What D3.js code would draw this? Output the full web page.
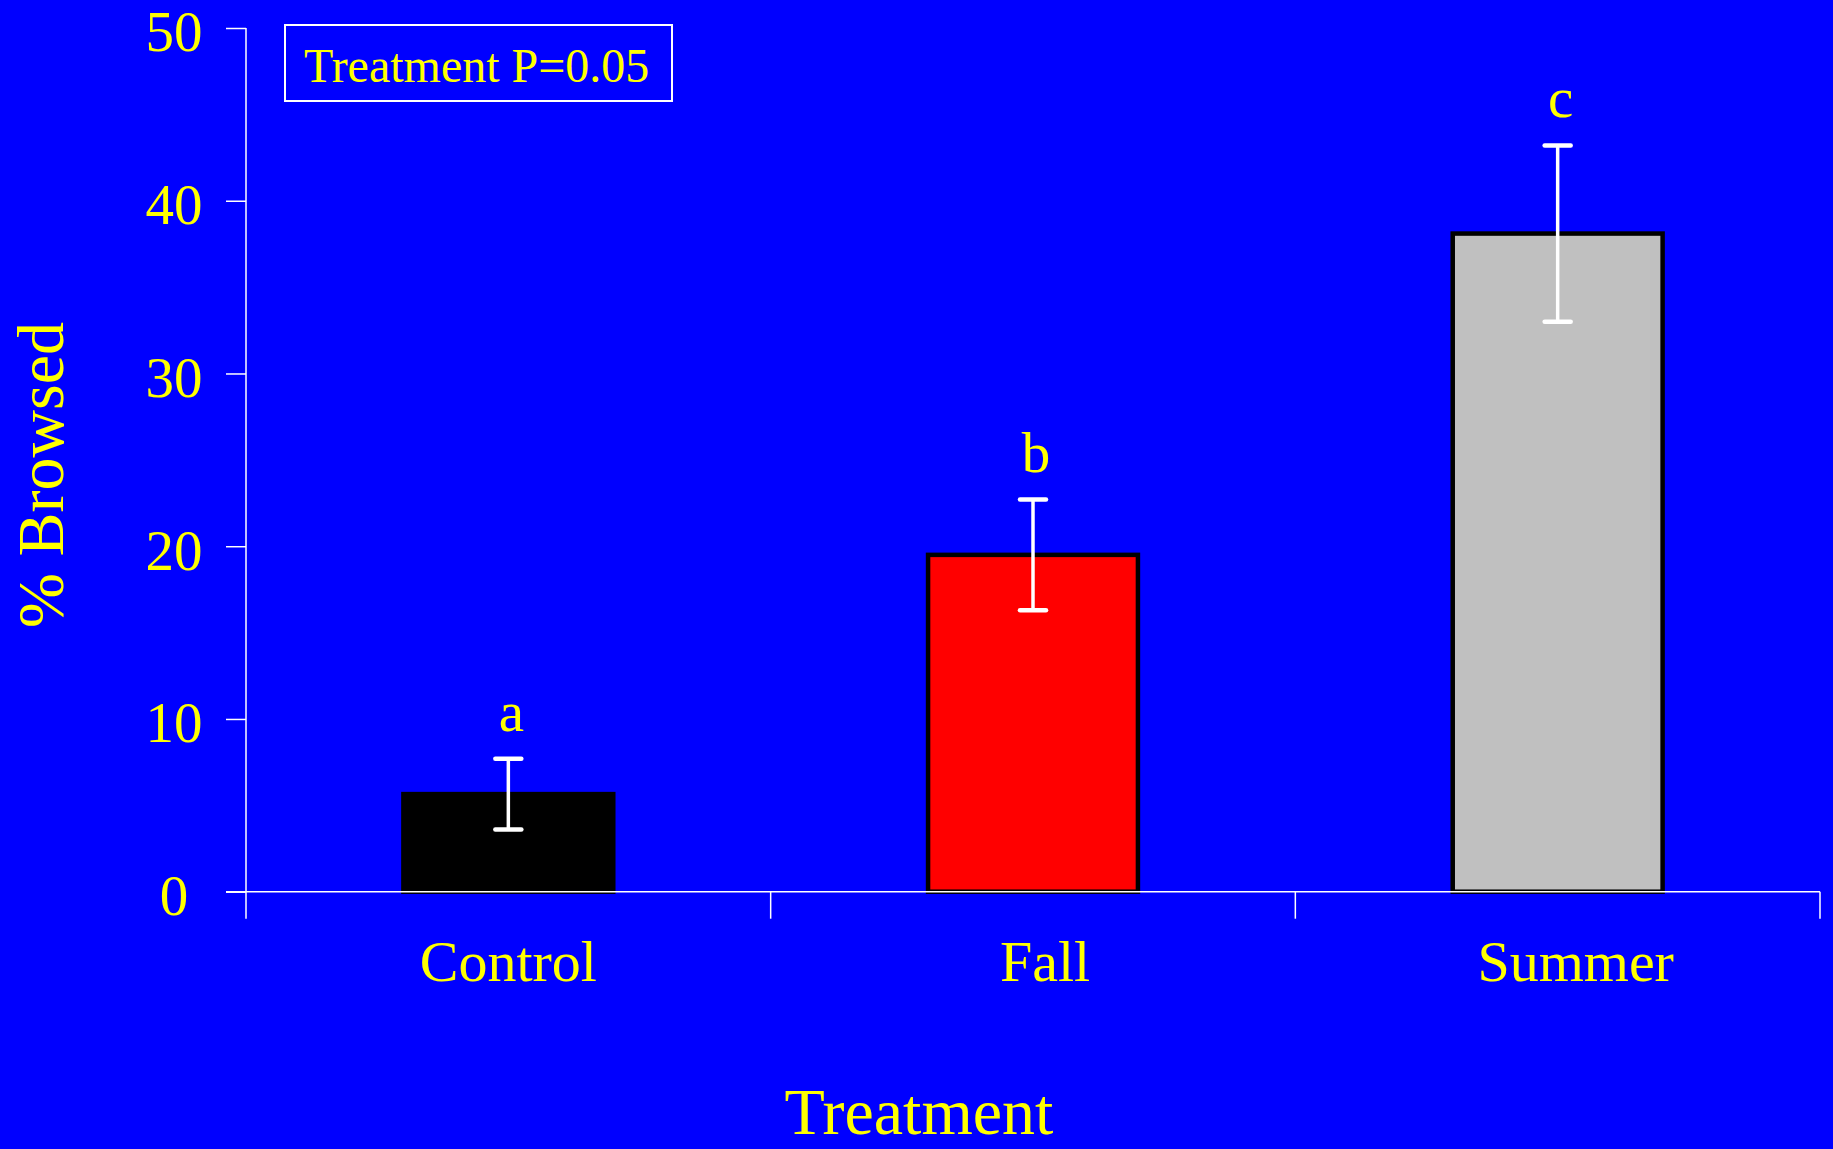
<!DOCTYPE html>
<html>
<head>
<meta charset="utf-8">
<script src="https://cdn.jsdelivr.net/npm/d3@7"></script>
<style>
  html, body { margin: 0; padding: 0; background: #0000FF; overflow: hidden; }
  svg { display: block; }
  text { font-family: "Liberation Serif", "Times New Roman", serif; fill: #FFFF00; }
</style>
</head>
<body>
<svg id="chart" width="1833" height="1149"></svg>
<script>
const categories = ["Control", "Fall", "Summer"];
const means = [5.65, 19.5, 38.1];
const errors = [2.05, 3.2, 5.1];
const letters = ["a", "b", "c"];
const barColors = ["#000000", "#FF0000", "#C0C0C0"];
const yTicks = [0, 10, 20, 30, 40, 50];
const legendText = "Treatment P=0.05";
const xTitle = "Treatment";
const yTitle = "% Browsed";

(function () {
const W = 1833, H = 1149;
const mLeft = 246, mRight = 1820, mTop = 28, mBottom = 891.7;

const svg = d3.select("#chart");
svg.append("rect").attr("width", W).attr("height", H).attr("fill", "#0000FF");

const x = d3.scaleBand().domain(categories).range([mLeft, mRight])
  .paddingInner(0.6).paddingOuter(0.3);
const y = d3.scaleLinear().domain([0, 50]).range([mBottom, mTop]);

// bars
svg.selectAll("rect.bar").data(categories).join("rect")
  .attr("class", "bar")
  .attr("x", d => x(d))
  .attr("y", (d, i) => y(means[i]))
  .attr("width", x.bandwidth())
  .attr("height", (d, i) => y(0) - y(means[i]))
  .attr("fill", (d, i) => barColors[i])
  .attr("stroke", "#000")
  .attr("stroke-width", 4.5);

// y axis
const yAxis = d3.axisLeft(y).tickValues(yTicks).tickSize(20).tickPadding(0);
const gy = svg.append("g").attr("transform", `translate(${mLeft},0)`).call(yAxis);
gy.select(".domain").remove();
gy.attr("font-family", null).attr("font-size", null);
gy.selectAll(".tick line").attr("stroke", "#FFFFFF").attr("stroke-width", 1.5);
gy.selectAll(".tick text")
  .attr("x", -72).attr("text-anchor", "middle").attr("dy", "0.4em")
  .style("font-size", "57px").attr("fill", "#FFFF00");
svg.append("line").attr("x1", mLeft).attr("x2", mLeft).attr("y1", mTop).attr("y2", mBottom + 27)
  .attr("stroke", "#FFFFFF").attr("stroke-width", 1.5);

// x axis line and ticks at band boundaries
svg.append("line").attr("x1", mLeft - 20).attr("x2", mRight).attr("y1", mBottom).attr("y2", mBottom)
  .attr("stroke", "#FFFFFF").attr("stroke-width", 1.5);
const xb = d3.scaleLinear().domain([0, categories.length]).range([mLeft, mRight]);
svg.selectAll("line.xtick").data(d3.range(1, categories.length + 1)).join("line")
  .attr("class", "xtick")
  .attr("x1", d => xb(d)).attr("x2", d => xb(d))
  .attr("y1", mBottom).attr("y2", mBottom + 27)
  .attr("stroke", "#FFFFFF").attr("stroke-width", 1.5);

// category labels
const labelNudge = [0, 12, 18];
svg.selectAll("text.cat").data(categories).join("text")
  .attr("class", "cat")
  .attr("x", (d, i) => x(d) + x.bandwidth() / 2 + labelNudge[i])
  .attr("y", 981)
  .attr("text-anchor", "middle")
  .style("font-size", "58px")
  .text(d => d);

// error bars
const eb = svg.append("g");
categories.forEach((c, i) => {
  const cx = x(c) + x.bandwidth() / 2;
  const hi = y(means[i] + errors[i]), lo = y(means[i] - errors[i]);
  eb.append("line").attr("x1", cx).attr("x2", cx).attr("y1", hi).attr("y2", lo)
    .attr("stroke", "#FFFFFF").attr("stroke-width", 3.5);
  [hi, lo].forEach(yy => {
    eb.append("line").attr("x1", cx - 13).attr("x2", cx + 13).attr("y1", yy).attr("y2", yy)
      .attr("stroke", "#FFFFFF").attr("stroke-width", 4.5).attr("stroke-linecap", "round");
  });
  svg.append("text").attr("x", cx + 3).attr("y", hi - 28)
    .attr("text-anchor", "middle").style("font-size", "57px").text(letters[i]);
});

// legend box
svg.append("rect").attr("x", 285).attr("y", 25).attr("width", 387).attr("height", 76)
  .attr("fill", "none").attr("stroke", "#FFFFFF").attr("stroke-width", 2);
svg.append("text").attr("x", 304).attr("y", 82).style("font-size", "48px").text(legendText);

// axis titles
svg.append("text").attr("x", 919).attr("y", 1134).attr("text-anchor", "middle")
  .style("font-size", "66px").text(xTitle);
svg.append("text").attr("transform", "translate(63,475) rotate(-90)")
  .attr("text-anchor", "middle").style("font-size", "66px").text(yTitle);
})();
</script>
</body>
</html>
